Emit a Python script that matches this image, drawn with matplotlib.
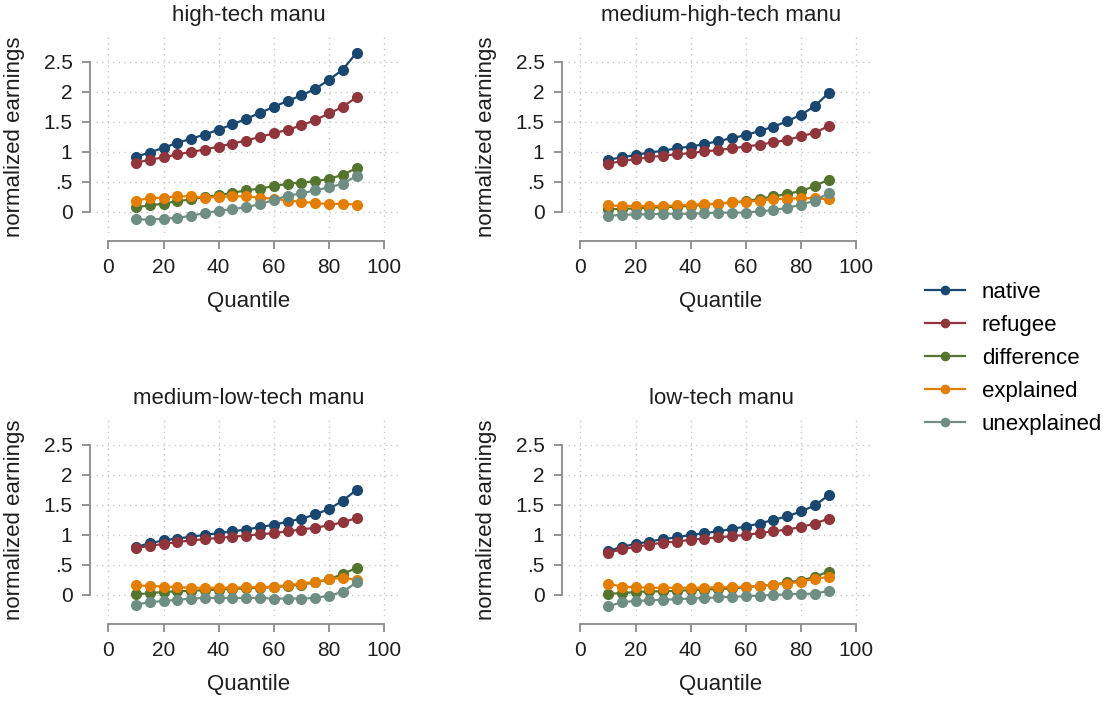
import matplotlib
matplotlib.use("Agg")
import matplotlib.pyplot as plt
import numpy as np

plt.rcParams['font.family'] = ['Liberation Sans', 'DejaVu Sans']

# ----------------------------------------
# Data
# ----------------------------------------
quantiles = np.arange(10, 95, 5)

panel_titles = ["high-tech manu", "medium-high-tech manu",
                "medium-low-tech manu", "low-tech manu"]
series_names = ["native", "refugee", "difference", "explained", "unexplained"]

high_native = [0.92, 0.99, 1.07, 1.15, 1.22, 1.29, 1.37, 1.46, 1.55, 1.65, 1.75, 1.85, 1.94, 2.05, 2.20, 2.37, 2.65]
high_refugee = [0.82, 0.87, 0.91, 0.96, 1.00, 1.04, 1.09, 1.14, 1.19, 1.25, 1.31, 1.37, 1.44, 1.53, 1.64, 1.75, 1.91]
high_diff = [0.08, 0.11, 0.14, 0.18, 0.21, 0.25, 0.28, 0.32, 0.36, 0.39, 0.43, 0.47, 0.49, 0.51, 0.55, 0.62, 0.73]
high_expl = [0.19, 0.23, 0.24, 0.26, 0.26, 0.24, 0.25, 0.26, 0.26, 0.24, 0.22, 0.19, 0.17, 0.15, 0.13, 0.14, 0.12]
high_unexpl = [-0.12, -0.13, -0.11, -0.10, -0.06, -0.02, 0.02, 0.05, 0.08, 0.13, 0.20, 0.27, 0.31, 0.36, 0.41, 0.47, 0.60]

medhigh_native = [0.87, 0.91, 0.95, 0.99, 1.02, 1.06, 1.09, 1.13, 1.18, 1.23, 1.28, 1.35, 1.42, 1.51, 1.62, 1.76, 1.98]
medhigh_refugee = [0.80, 0.85, 0.88, 0.91, 0.94, 0.96, 0.98, 1.01, 1.03, 1.06, 1.09, 1.12, 1.16, 1.20, 1.26, 1.32, 1.43]
medhigh_diff = [0.05, 0.05, 0.06, 0.07, 0.08, 0.09, 0.10, 0.12, 0.14, 0.16, 0.18, 0.22, 0.26, 0.30, 0.35, 0.43, 0.54]
medhigh_expl = [0.11, 0.10, 0.10, 0.10, 0.10, 0.11, 0.12, 0.13, 0.14, 0.16, 0.17, 0.19, 0.21, 0.22, 0.23, 0.23, 0.21]
medhigh_unexpl = [-0.06, -0.05, -0.04, -0.04, -0.03, -0.03, -0.03, -0.02, -0.01, -0.01, -0.01, 0.01, 0.03, 0.07, 0.12, 0.19, 0.31]

medlow_native = [0.80, 0.86, 0.91, 0.94, 0.97, 1.00, 1.03, 1.06, 1.09, 1.13, 1.17, 1.22, 1.27, 1.34, 1.43, 1.57, 1.75]
medlow_refugee = [0.78, 0.82, 0.85, 0.88, 0.91, 0.93, 0.95, 0.97, 0.99, 1.01, 1.03, 1.06, 1.09, 1.12, 1.16, 1.21, 1.28]
medlow_diff = [0.01, 0.03, 0.05, 0.06, 0.07, 0.08, 0.09, 0.10, 0.11, 0.12, 0.13, 0.15, 0.17, 0.21, 0.26, 0.35, 0.45]
medlow_expl = [0.16, 0.15, 0.14, 0.13, 0.12, 0.12, 0.12, 0.12, 0.13, 0.13, 0.14, 0.16, 0.19, 0.22, 0.26, 0.29, 0.25]
medlow_unexpl = [-0.16, -0.12, -0.10, -0.08, -0.06, -0.05, -0.05, -0.05, -0.05, -0.05, -0.06, -0.06, -0.06, -0.05, -0.01, 0.05, 0.21]

low_native = [0.73, 0.80, 0.85, 0.89, 0.93, 0.96, 1.00, 1.03, 1.06, 1.10, 1.14, 1.19, 1.25, 1.31, 1.39, 1.49, 1.66]
low_refugee = [0.70, 0.76, 0.80, 0.84, 0.87, 0.89, 0.92, 0.94, 0.96, 0.98, 1.00, 1.03, 1.06, 1.09, 1.13, 1.19, 1.27]
low_diff = [0.02, 0.03, 0.05, 0.06, 0.06, 0.07, 0.08, 0.09, 0.10, 0.11, 0.13, 0.15, 0.17, 0.21, 0.24, 0.30, 0.39]
low_expl = [0.19, 0.14, 0.13, 0.12, 0.12, 0.12, 0.12, 0.12, 0.13, 0.13, 0.14, 0.15, 0.17, 0.19, 0.22, 0.27, 0.30]
low_unexpl = [-0.19, -0.12, -0.10, -0.09, -0.08, -0.07, -0.06, -0.05, -0.04, -0.03, -0.02, -0.01, 0.00, 0.01, 0.02, 0.02, 0.07]

panels = [
    [high_native, high_refugee, high_diff, high_expl, high_unexpl],
    [medhigh_native, medhigh_refugee, medhigh_diff, medhigh_expl, medhigh_unexpl],
    [medlow_native, medlow_refugee, medlow_diff, medlow_expl, medlow_unexpl],
    [low_native, low_refugee, low_diff, low_expl, low_unexpl],
]

x_ticks = [0, 20, 40, 60, 80, 100]
y_ticks = [0, 0.5, 1, 1.5, 2, 2.5]
y_ticklabels = ["0", ".5", "1", "1.5", "2", "2.5"]

# Stata s2color palette
colors = ['#1a476f', '#90353b', '#55752f', '#e37e00', '#6e8e84']
axis_gray = '#8a8a8a'

# ----------------------------------------
# Layout (pixel positions of the plot regions)
# ----------------------------------------
W, H = 1103, 701
fig = plt.figure(figsize=(W / 100, H / 100), dpi=100)

# (left, top) of each plot region in pixels
corners = [(96, 33), (568, 33), (96, 416), (568, 416)]
pw, ph = 306, 200

axes = []
for (left, top), title, data in zip(corners, panel_titles, panels):
    ax = fig.add_axes([left / W, 1 - (top + ph) / H, pw / W, ph / H])
    for y, c, name in zip(data, colors, series_names):
        ax.plot(quantiles, y, color=c, marker='o', markersize=7,
                linewidth=1.6, label=name)

    ax.set_xlim(-4.5, 106.5)
    ax.set_ylim(-0.35, 2.98)
    ax.set_xticks(x_ticks)
    ax.set_yticks(y_ticks)
    ax.set_yticklabels(y_ticklabels)
    ax.grid(True, linestyle=(0, (1, 3)), color='#c8c8c8', linewidth=1)
    ax.set_axisbelow(True)

    for s in ['top', 'right']:
        ax.spines[s].set_visible(False)
    ax.spines['left'].set_position(('outward', 4))
    ax.spines['bottom'].set_position(('outward', 6))
    ax.spines['left'].set_bounds(0, 2.5)
    ax.spines['bottom'].set_bounds(0, 100)
    for s in ['left', 'bottom']:
        ax.spines[s].set_color(axis_gray)
        ax.spines[s].set_linewidth(1.3)
    ax.tick_params(axis='both', colors=axis_gray, length=6, width=1.3,
                   labelsize=15, labelcolor='#1e1e1e')
    ax.tick_params(axis='y', pad=7)
    ax.tick_params(axis='x', pad=6)

    ax.set_title(title, fontsize=16, color='#1e1e1e', pad=9)
    ax.set_xlabel("Quantile", fontsize=16, color='#1e1e1e', labelpad=10)
    ax.set_ylabel("normalized earnings", fontsize=16, color='#1e1e1e')
    ax.yaxis.set_label_coords(-0.232, 0.48)
    axes.append(ax)

handles, labels = axes[0].get_legend_handles_labels()
fig.legend(handles, labels, loc='upper left',
           bbox_to_anchor=(925 / W, 1 - 282 / H), frameon=False,
           fontsize=16, handlelength=1.8, handletextpad=0.75,
           labelspacing=0.54, borderaxespad=0, borderpad=0,
           markerscale=0.85)

fig.savefig("out.png", dpi=100)
